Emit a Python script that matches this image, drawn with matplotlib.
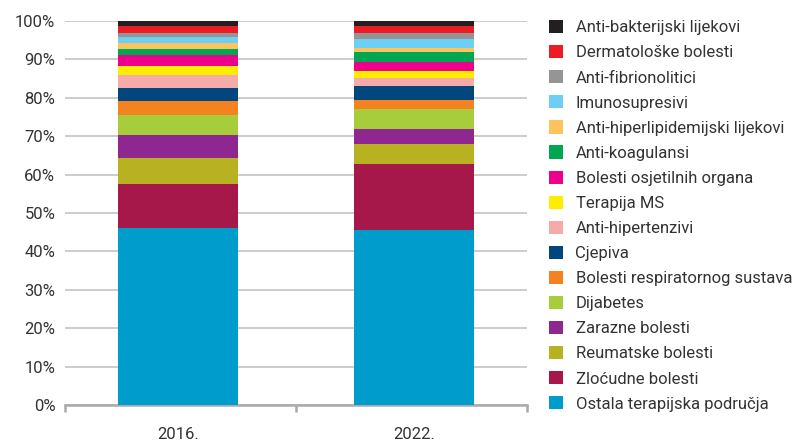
import matplotlib
matplotlib.use("Agg")
import matplotlib.pyplot as plt
from matplotlib.patches import Patch
from matplotlib.ticker import FuncFormatter

years = ["2016.", "2022."]
categories = [
    "Ostala terapijska područja", "Zloćudne bolesti", "Reumatske bolesti",
    "Zarazne bolesti", "Dijabetes", "Bolesti respiratornog sustava", "Cjepiva",
    "Anti-hipertenzivi", "Terapija MS", "Bolesti osjetilnih organa",
    "Anti-koagulansi", "Anti-hiperlipidemijski lijekovi", "Imunosupresivi",
    "Anti-fibrionolitici", "Dermatološke bolesti", "Anti-bakterijski lijekovi",
]
values_2016 = [46.2, 11.4, 6.7, 6.0, 5.2, 3.7, 3.4, 3.3, 2.4, 2.8, 1.6, 1.6, 1.5, 1.2, 1.8, 1.2]
values_2022 = [45.6, 17.2, 5.2, 3.9, 5.2, 2.3, 3.7, 2.1, 1.8, 2.4, 2.5, 1.1, 2.3, 1.6, 1.9, 1.2]
colors = [
    "#009ccc", "#a6174a", "#b8b122", "#8e278f", "#a8cd3c", "#f48221", "#01467c",
    "#f6abab", "#ffed00", "#ec008c", "#00a651", "#fdc45c", "#6dcff6", "#959595",
    "#ed1c24", "#231f20",
]

plt.rcParams['font.family'] = ['Roboto', 'DejaVu Sans']
fig = plt.figure(figsize=(8.06, 4.41), dpi=100)
ax = fig.add_axes([65/806, 1-405/441, (527-65)/806, 384/441])

x = [0.49, 1.51]
bottoms = [0.0, 0.0]
for i, cat in enumerate(categories):
    vals = [values_2016[i], values_2022[i]]
    ax.bar(x, vals, width=0.52, bottom=bottoms, color=colors[i], label=cat, zorder=3)
    bottoms = [b + v for b, v in zip(bottoms, vals)]

ax.set_xlim(0, 2)
ax.set_ylim(0, 100)
ax.set_yticks(range(0, 101, 10))
ax.yaxis.set_major_formatter(FuncFormatter(lambda v, p: f"{int(v)}%"))
ax.grid(axis='y', color='#c8c8c8', lw=1.3, zorder=0)
for s in ['top', 'right', 'left']:
    ax.spines[s].set_visible(False)
ax.spines['bottom'].set_color('#aaaaaa')
ax.spines['bottom'].set_linewidth(1.8)
ax.tick_params(axis='y', length=0, labelsize=12, labelcolor='#333333', pad=7)
ax.set_xticks([0, 1, 2])
ax.set_xticklabels([])
ax.tick_params(axis='x', length=5, width=1.8, color='#aaaaaa')
for xi, lab in zip(x, years):
    ax.text(xi, -5.6, lab, ha='center', va='top', fontsize=12, color='#333333')

handles = [Patch(facecolor=c, edgecolor='none') for c in colors][::-1]
labels = categories[::-1]
fig.legend(handles, labels, loc='upper left', bbox_to_anchor=(534/806, 1-5/441),
           frameon=False, fontsize=12, handlelength=0.84, handleheight=0.84,
           handletextpad=0.75, labelspacing=0.583, labelcolor='#333333')

fig.savefig("out.png", dpi=100)
